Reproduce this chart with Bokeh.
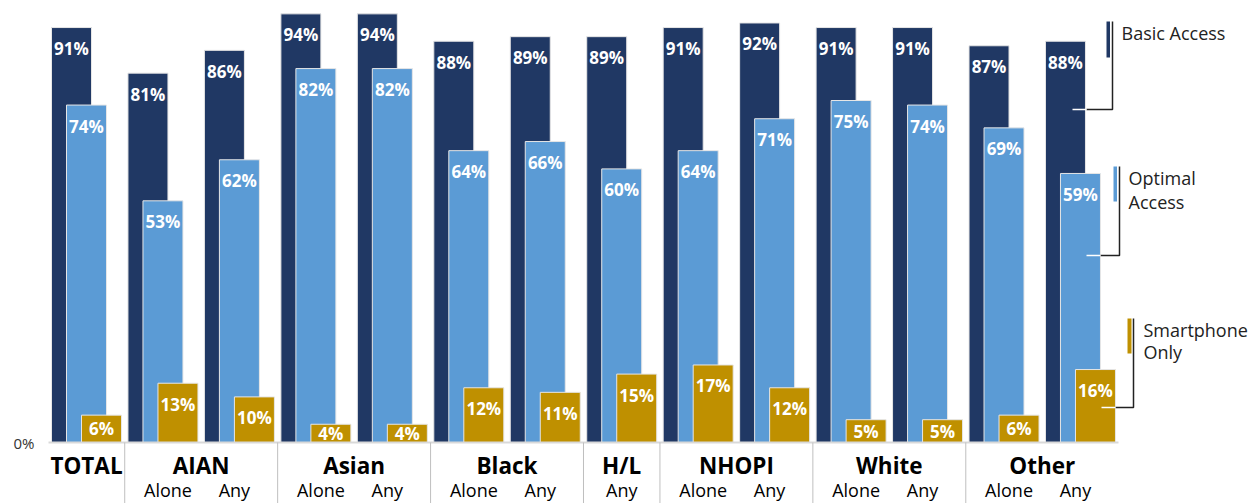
import numpy as np
from bokeh.plotting import figure
from bokeh.models import Range1d, ColumnDataSource
from bokeh.core.properties import value
from bokeh.embed import file_html
from bokeh.resources import INLINE

# ---------------- data ----------------
group_names = ["TOTAL", "AIAN", "Asian", "Black", "H/L", "NHOPI", "White", "Other"]
group_members = [[""], ["Alone", "Any"], ["Alone", "Any"], ["Alone", "Any"],
                 ["Any"], ["Alone", "Any"], ["Alone", "Any"], ["Alone", "Any"]]
basic = [91, 81, 86, 94, 94, 88, 89, 89, 91, 92, 91, 91, 87, 88]
optimal = [74, 53, 62, 82, 82, 64, 66, 60, 64, 71, 75, 74, 69, 59]
smartphone = [6, 13, 10, 4, 4, 12, 11, 15, 17, 12, 5, 5, 6, 16]
series_names = ["Basic Access", "Optimal\nAccess", "Smartphone\nOnly"]

# ---------------- style ----------------
DARK = "#203864"
BLUE = "#5B9BD5"
GOLD = "#BF9000"
FONT = value("Open Sans")
W, H = 1260, 503
PX_PER_UNIT = 76.46          # horizontal pixels per bar group
PX_PER_PCT = 4.56            # vertical pixels per percent
BASE_PX = 442                # baseline pixel row
FIRST_PX = 71                # pixel centre of first dark bar
OFF = 15 / PX_PER_UNIT       # shift between overlapping bars
BW = 40 / PX_PER_UNIT        # bar width

XL = -FIRST_PX / PX_PER_UNIT
XH = XL + W / PX_PER_UNIT
YT = BASE_PX / PX_PER_PCT
YB = -(H - BASE_PX) / PX_PER_PCT


def px(xp):
    return XL + xp / PX_PER_UNIT


def py(yp):
    return (BASE_PX - yp) / PX_PER_PCT


p = figure(width=W, height=H, x_range=Range1d(XL, XH), y_range=Range1d(YB, YT),
           output_backend="svg", toolbar_location=None,
           x_axis_type=None, y_axis_type=None, min_border=0,
           outline_line_color=None, background_fill_color="white",
           border_fill_color="white")
p.grid.visible = False

n = len(basic)
idx = np.arange(n, dtype=float)
src = ColumnDataSource(dict(
    xd=idx, xb=idx + OFF, xg=idx + 2 * OFF,
    basic=basic, optimal=optimal, smart=smartphone,
    lb=[f"{v}%" for v in basic], lo=[f"{v}%" for v in optimal], ls=[f"{v}%" for v in smartphone],
    yb=[max(v - 4.6, v / 2) for v in basic],
    yo=[max(v - 4.6, v / 2) for v in optimal],
    ys=[max(v - 4.6, v / 2) for v in smartphone],
))

edge = "#e6e6e6"
p.vbar(x="xd", top="basic", bottom=0, width=BW, source=src, fill_color=DARK, line_color=edge, line_width=1)
p.vbar(x="xb", top="optimal", bottom=0, width=BW, source=src, fill_color=BLUE, line_color=edge, line_width=1)
p.vbar(x="xg", top="smart", bottom=0, width=BW, source=src, fill_color=GOLD, line_color=edge, line_width=1)

for xcol, ycol, tcol in [("xd", "yb", "lb"), ("xb", "yo", "lo"), ("xg", "ys", "ls")]:
    p.text(x=xcol, y=ycol, text=tcol, source=src, text_font=FONT, text_font_style="bold",
           text_font_size="17px", text_color="white", text_align="center", text_baseline="middle")

# baseline
p.line(x=[px(48), px(1118)], y=[0, 0], line_color="#d9d9d9", line_width=2)
p.text(x=[px(34)], y=[0], text=["0%"], text_font=FONT, text_font_size="15px",
       text_color="#333333", text_align="right", text_baseline="middle")

# category axis labels
tc = idx + OFF
gx, gsub_x, gsub_t, seps = [], [], [], []
k = 0
for g, members in enumerate(group_members):
    ids = list(range(k, k + len(members)))
    c = float(np.mean(tc[ids]))
    gx.append(c)
    if len(members) == 2:
        gsub_x += [c - 0.434, c + 0.434]
        gsub_t += members
    elif members[0]:
        gsub_x.append(c)
        gsub_t.append(members[0])
    if g > 0:
        seps.append((tc[k - 1] + tc[k]) / 2)
    k += len(members)

p.text(x=gx, y=[py(465)] * len(gx), text=group_names, text_font=FONT, text_font_style="bold",
       text_font_size="22.5px", text_color="black", text_align="center", text_baseline="middle")
p.text(x=gsub_x, y=[py(489)] * len(gsub_x), text=gsub_t, text_font=FONT,
       text_font_size="18px", text_color="black", text_align="center", text_baseline="middle")
p.segment(x0=seps, x1=seps, y0=[0] * len(seps), y1=[py(H)] * len(seps),
          line_color="#bfbfbf", line_width=1)

# legend with leader lines
leg = [
    # colour, marker x0,x1, marker y0,y1, vline x, hline y, black-to x, white-to x, text x, text y's
    (DARK, 1106, 1109.5, 21, 57, 1112, 109, 1086, 1072, 1121, [32]),
    (BLUE, 1113, 1116.5, 166, 201, 1119, 255, 1100, 1086, 1128, [177, 201]),
    (GOLD, 1127, 1131, 318, 353, 1133, 407, 1115, 1101, 1143, [329, 351]),
]
for (col, mx0, mx1, my0, my1, vx, hy, bx, wx, tx, tys), name in zip(leg, series_names):
    p.quad(left=[px(mx0)], right=[px(mx1)], top=[py(my0)], bottom=[py(my1)],
           fill_color=col, line_color=None)
    p.line(x=[px(vx), px(vx), px(bx)], y=[py(my0), py(hy), py(hy)], line_color="#222222", line_width=1.5)
    p.line(x=[px(bx), px(wx)], y=[py(hy), py(hy)], line_color="white", line_width=1.5)
    lines = name.split("\n")
    p.text(x=[px(tx)] * len(lines), y=[py(t) for t in tys], text=lines, text_font=FONT,
           text_font_size="18px", text_color="#222222", text_align="left", text_baseline="middle")

open("out.html", "w").write(file_html(p, INLINE))
